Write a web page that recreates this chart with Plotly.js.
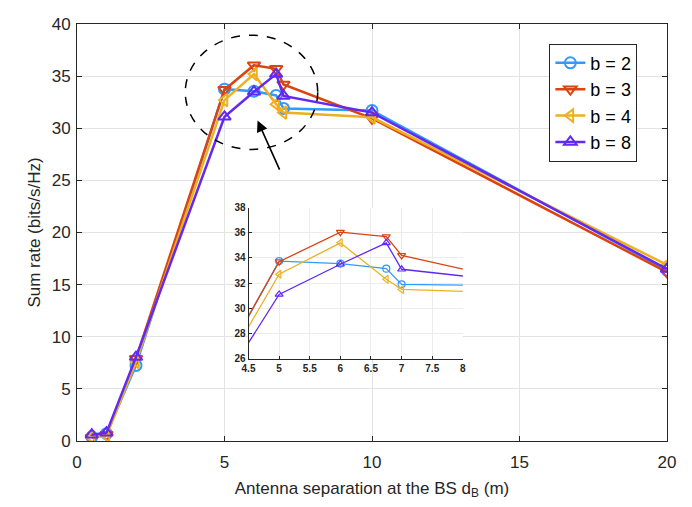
<!DOCTYPE html>
<html>
<head>
<meta charset="utf-8">
<script src="https://cdn.plot.ly/plotly-3.0.1.min.js"></script>
<style>
  html, body { margin: 0; padding: 0; background: #fff; }
  #myPlot { width: 692px; height: 507px; }
</style>
</head>
<body>
<div id="myPlot"></div>
<script>
// antenna separation at the BS (m)
var sep = [0.5, 1, 2, 5, 6, 6.75, 7, 10, 20];

// sum rate (bits/s/Hz) for each quantization level
var rateB2 = [0.4, 0.7, 7.25, 33.75, 33.55, 33.15, 31.9, 31.7, 16.4];
var rateB3 = [0.3, 0.6, 7.9, 33.7, 36.05, 35.7, 34.2, 30.95, 16.2];
var rateB4 = [0.35, 0.5, 7.6, 32.7, 35.2, 32.3, 31.5, 31.05, 16.9];
var rateB8 = [0.6, 0.8, 8.05, 31.1, 33.5, 35.2, 33.1, 31.5, 16.5];

var names   = ['b = 2', 'b = 3', 'b = 4', 'b = 8'];
var series  = [rateB2, rateB3, rateB4, rateB8];
var colors  = ['#3399FF', '#D9440F', '#EDB120', '#6329F2'];
var symbols = ['circle-open', 'triangle-down-open', 'triangle-left-open', 'triangle-up-open'];

var mainTicksX  = [0, 5, 10, 15, 20];
var mainTicksY  = [0, 5, 10, 15, 20, 25, 30, 35, 40];
var insetTicksX = [4.5, 5, 5.5, 6, 6.5, 7, 7.5, 8];
var insetTicksY = [26, 28, 30, 32, 34, 36, 38];

var ink = '#262626';
var font = 'Liberation Sans, Arial, sans-serif';

var data = [];
// main curves
for (var i = 0; i < series.length; ++i) {
    data.push({
        x: sep,
        y: series[i],
        name: names[i],
        legendgroup: names[i],
        type: 'scatter',
        mode: 'lines+markers',
        line: { color: colors[i], width: 2.5 },
        marker: { symbol: symbols[i], size: 11, color: colors[i], line: { color: colors[i], width: 2 } },
        xaxis: 'x',
        yaxis: 'y'
    });
}
// zoomed-in copies for the inset
for (var i = 0; i < series.length; ++i) {
    data.push({
        x: sep,
        y: series[i],
        type: 'scatter',
        mode: 'lines+markers',
        showlegend: false,
        line: { color: colors[i], width: 1.3 },
        marker: { symbol: symbols[i], size: 7, color: colors[i], line: { color: colors[i], width: 1.2 } },
        xaxis: 'x2',
        yaxis: 'y2'
    });
}

var layout = {
    width: 692,
    height: 507,
    margin: { l: 77, r: 25, t: 24, b: 66 },
    paper_bgcolor: '#fff',
    plot_bgcolor: '#fff',
    font: { family: font, color: ink, size: 17 },
    showlegend: true,
    legend: {
        x: 0.8006, y: 0.953, xanchor: 'left', yanchor: 'top',
        bgcolor: '#fff', bordercolor: ink, borderwidth: 1,
        font: { family: font, size: 18, color: '#000' },
        tracegroupgap: 0
    },
    xaxis: {
        domain: [0, 1],
        range: [0, 20],
        tickvals: mainTicksX,
        ticks: 'inside', ticklen: 5, tickcolor: ink,
        ticklabelstandoff: 6,
        showline: true, linecolor: ink, linewidth: 1, mirror: 'ticks',
        showgrid: true, gridcolor: '#e3e3e3', zeroline: false,
        tickfont: { size: 17 },
        title: { text: 'Antenna separation at the BS d<sub>B</sub> (m)', font: { size: 17 }, standoff: 10 }
    },
    yaxis: {
        domain: [0, 1],
        range: [0, 40],
        tickvals: mainTicksY,
        ticks: 'inside', ticklen: 5, tickcolor: ink,
        ticklabelstandoff: 2,
        showline: true, linecolor: ink, linewidth: 1, mirror: 'ticks',
        showgrid: true, gridcolor: '#e3e3e3', zeroline: false,
        tickfont: { size: 17 },
        title: { text: 'Sum rate (bits/s/Hz)', font: { size: 17 }, standoff: 6 }
    },
    xaxis2: {
        anchor: 'y2',
        domain: [0.2907, 0.654],
        range: [4.5, 8],
        tickvals: insetTicksX,
        ticktext: ['4.5', '5', '5.5', '6', '6.5', '7', '7.5', '8'],
        ticks: 'inside', ticklen: 3, tickcolor: ink,
        showline: true, linecolor: ink, linewidth: 1,
        showgrid: true, gridcolor: '#ececec', zeroline: false,
        tickfont: { size: 10, weight: 'bold', color: ink }
    },
    yaxis2: {
        anchor: 'x2',
        domain: [0.1976, 0.5597],
        range: [26, 38],
        tickvals: insetTicksY,
        ticks: 'inside', ticklen: 3, tickcolor: ink,
        showline: true, linecolor: ink, linewidth: 1,
        showgrid: true, gridcolor: '#ececec', zeroline: false,
        tickfont: { size: 10, weight: 'bold', color: ink }
    },
    shapes: [
        // white panel behind the inset (covers main grid round its tick labels)
        {
            type: 'rect', xref: 'x2 domain', yref: 'y2 domain',
            x0: -0.165, x1: 1.123, y0: -0.137, y1: 1.095,
            fillcolor: '#fff', line: { width: 0 }, layer: 'below'
        },
        // dashed ellipse round the peak region
        {
            type: 'circle', xref: 'x', yref: 'y',
            x0: 3.67, x1: 8.16, y0: 27.97, y1: 38.93,
            line: { color: '#000', width: 1.5, dash: 'dash' }
        }
    ],
    annotations: [
        {
            x: 6.12, y: 30.74, xref: 'x', yref: 'y',
            ax: 6.89, ay: 25.89, axref: 'x', ayref: 'y',
            text: '', showarrow: true,
            arrowhead: 2, arrowsize: 1.4, arrowwidth: 1.6, arrowcolor: '#000'
        }
    ]
};

var config = { staticPlot: true, displayModeBar: false };

Plotly.newPlot('myPlot', data, layout, config);
</script>
</body>
</html>
